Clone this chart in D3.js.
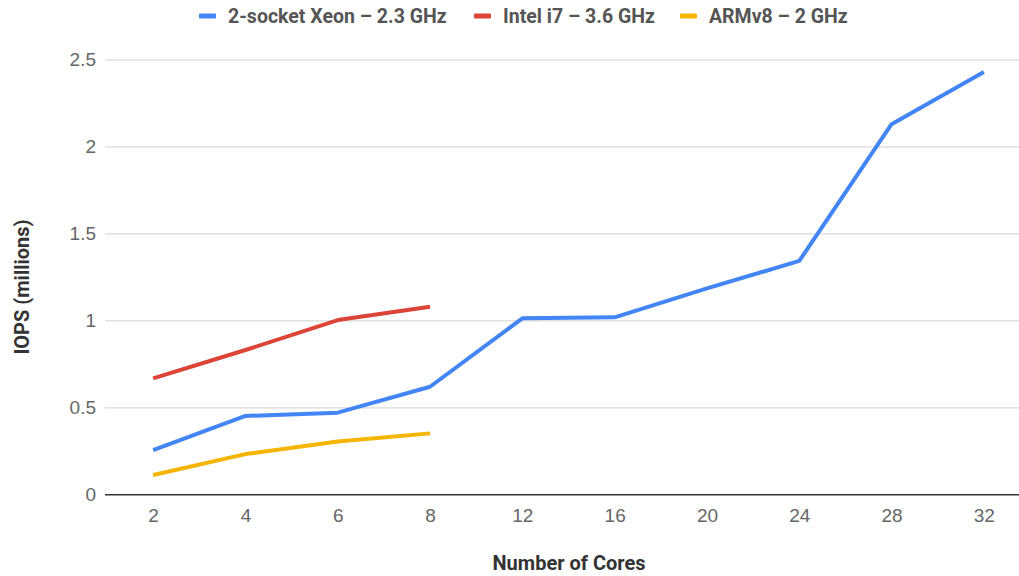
<!DOCTYPE html>
<html>
<head>
<meta charset="utf-8">
<script src="https://cdn.jsdelivr.net/npm/d3@7"></script>
<style>
  body { margin: 0; background: #fff; }
  svg { display: block; font-family: Roboto, "Noto Sans", sans-serif; }
</style>
</head>
<body>
<svg id="chart" width="1019" height="576"></svg>
<script>
// Core counts on the x axis
const cores = ["2", "4", "6", "8", "12", "16", "20", "24", "28", "32"];
// IOPS in millions per processor
const xeon = [0.257, 0.453, 0.472, 0.621, 1.014, 1.02, 1.186, 1.344, 2.13, 2.43];
const intel = [0.669, 0.832, 1.004, 1.081];
const arm = [0.114, 0.234, 0.306, 0.353];
const yTicks = [0, 0.5, 1, 1.5, 2, 2.5];

const series = [
  { name: "2-socket Xeon \u2013 2.3 GHz", values: xeon, color: "#4285F4" },
  { name: "Intel i7 \u2013 3.6 GHz", values: intel, color: "#DB4437" },
  { name: "ARMv8 \u2013 2 GHz", values: arm, color: "#F4B400" }
];

const svg = d3.select("#chart");
const W = 1019;

const x = d3.scalePoint().domain(cores).range([107, 1030]).padding(0.5);
const y = d3.scaleLinear().domain([0, 2.5]).range([494.8, 59.8]);

// Horizontal gridlines with labels
const yAxis = svg.append("g")
  .attr("transform", "translate(105,0)")
  .call(d3.axisLeft(y).tickValues(yTicks).tickSize(0).tickPadding(9)
    .tickFormat(d => d3.format("")(d)));
yAxis.select(".domain").remove();
yAxis.selectAll("text").attr("fill", "#666").style("font-size", "19px");
svg.append("g").selectAll("line")
  .data(yTicks.filter(d => d !== 0))
  .join("line")
  .attr("x1", 105).attr("x2", W)
  .attr("y1", d => y(d)).attr("y2", d => y(d))
  .attr("stroke", "#d9d9d9").attr("stroke-width", 1.3);

// X axis baseline and labels
const xAxis = svg.append("g")
  .attr("transform", `translate(0,${y(0)})`)
  .call(d3.axisBottom(x).tickSize(0).tickPadding(14));
xAxis.select(".domain").remove();
xAxis.selectAll("text").attr("fill", "#666").style("font-size", "19px");
svg.append("line")
  .attr("x1", 105).attr("x2", W)
  .attr("y1", y(0)).attr("y2", y(0))
  .attr("stroke", "#333").attr("stroke-width", 1.6);

// Lines
const line = d3.line().x((d, i) => x(cores[i])).y(d => y(d));
svg.append("g").selectAll("path")
  .data(series)
  .join("path")
  .attr("d", d => line(d.values))
  .attr("fill", "none")
  .attr("stroke", d => d.color)
  .attr("stroke-width", 4)
  .attr("stroke-linejoin", "round");

// Axis titles
svg.append("text")
  .attr("x", 569).attr("y", 570)
  .attr("text-anchor", "middle")
  .attr("fill", "#333").style("font-size", "20px").style("font-weight", "bold")
  .text("Number of Cores");
svg.append("text")
  .attr("transform", "translate(29,287) rotate(-90)")
  .attr("text-anchor", "middle")
  .attr("fill", "#333").style("font-size", "20px").style("font-weight", "bold")
  .text("IOPS (millions)");

// Legend
const legendX = [199, 474, 680];
const legend = svg.append("g").selectAll("g")
  .data(series)
  .join("g")
  .attr("transform", (d, i) => `translate(${legendX[i]},16)`);
legend.append("rect")
  .attr("x", 0).attr("y", -2.5).attr("width", 17).attr("height", 5)
  .attr("rx", 1).attr("fill", d => d.color);
legend.append("text")
  .attr("x", 29).attr("y", 7)
  .attr("fill", "#555").style("font-size", "19.5px").style("font-weight", "bold")
  .text(d => d.name);
</script>
</body>
</html>
